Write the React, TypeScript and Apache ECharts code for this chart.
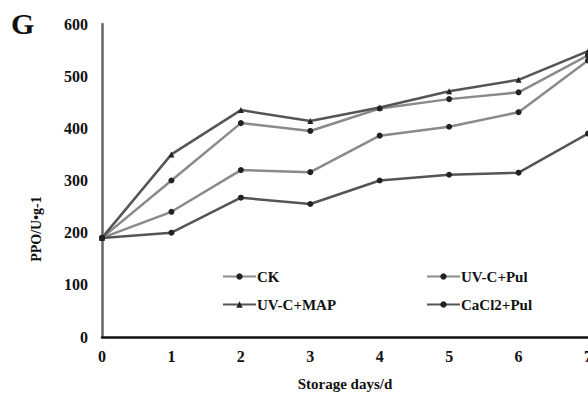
import React, { useEffect, useRef } from "react";
import * as echarts from "echarts";

const days = ["0", "1", "2", "3", "4", "5", "6", "7"];
const seriesNames = ["CK", "UV-C+Pul", "UV-C+MAP", "CaCl2+Pul"];
const ck = [190, 300, 410, 395, 438, 456, 469, 540];
const uvcPul = [190, 240, 320, 316, 386, 403, 431, 530];
const uvcMap = [190, 350, 435, 414, 440, 471, 493, 548];
const cacl2Pul = [190, 200, 267, 255, 300, 311, 315, 390];
const yTicks = [0, 100, 200, 300, 400, 500, 600];

const font = "'Liberation Serif', 'Times New Roman', serif";

export default function App() {
  const ref = useRef<HTMLDivElement>(null);
  useEffect(() => {
    if (!ref.current) return;
    const chart = echarts.init(ref.current, null, { renderer: "svg" });
    const mk = (name: string, data: number[], color: string, symbol: string) => ({
      name,
      type: "line",
      data,
      symbol,
      symbolSize: 6,
      lineStyle: { color, width: 2.5 },
      itemStyle: { color: "#222" },
      z: 3,
    });
    const legendText = { fontFamily: font, fontWeight: "bold", fontSize: 15, color: "#111", padding: [0, 0, 0, -4] };
    chart.setOption({
      animation: false,
      backgroundColor: "#fff",
      grid: { left: 102, right: 32, top: 24, bottom: 60, containLabel: false, outerBoundsMode: "none" },
      graphic: [
        {
          type: "text",
          left: 11,
          top: 8,
          style: { text: "G", font: `bold 30px ${font}`, fill: "#111" },
        },
        {
          type: "text",
          x: 36,
          y: 229,
          rotation: Math.PI / 2,
          style: {
            text: "PPO/U•g-1",
            font: `bold 14px ${font}`,
            fill: "#111",
            align: "center",
            verticalAlign: "middle",
          },
        },
      ],
      legend: [
        {
          left: 217,
          top: 264,
          orient: "vertical",
          itemGap: 13,
          itemWidth: 33,
          itemHeight: 8,
          data: ["CK", "UV-C+MAP"],
          textStyle: legendText,
        },
        {
          left: 421,
          top: 264,
          orient: "vertical",
          itemGap: 13,
          itemWidth: 33,
          itemHeight: 8,
          data: ["UV-C+Pul", "CaCl2+Pul"],
          textStyle: legendText,
        },
      ],
      xAxis: {
        type: "category",
        data: days,
        boundaryGap: false,
        name: "Storage days/d",
        nameLocation: "middle",
        nameGap: 39,
        nameTextStyle: { fontFamily: font, fontWeight: "bold", fontSize: 15, color: "#111" },
        axisLine: { lineStyle: { color: "#111", width: 2.5 } },
        axisTick: { show: false },
        axisLabel: { fontFamily: font, fontWeight: "bold", fontSize: 16, color: "#111", margin: 11 },
        splitLine: { show: false },
      },
      yAxis: {
        type: "value",
        min: yTicks[0],
        max: yTicks[yTicks.length - 1],
        interval: 100,
        axisLine: { show: true, lineStyle: { color: "#666", width: 2.5 } },
        axisTick: { show: false },
        axisLabel: { fontFamily: font, fontWeight: "bold", fontSize: 16, color: "#111", margin: 14 },
        splitLine: { show: false },
      },
      series: [
        mk(seriesNames[0], ck, "#8a8a8a", "circle"),
        mk(seriesNames[1], uvcPul, "#8a8a8a", "circle"),
        mk(seriesNames[2], uvcMap, "#555", "triangle"),
        mk(seriesNames[3], cacl2Pul, "#555", "circle"),
      ],
    });
    return () => chart.dispose();
  }, []);
  return (
    <div style={{ position: "absolute", left: 0, top: 0, width: 588, height: 397, overflow: "hidden", background: "#fff" }}>
      <div ref={ref} style={{ width: 620, height: 397 }} />
    </div>
  );
}
